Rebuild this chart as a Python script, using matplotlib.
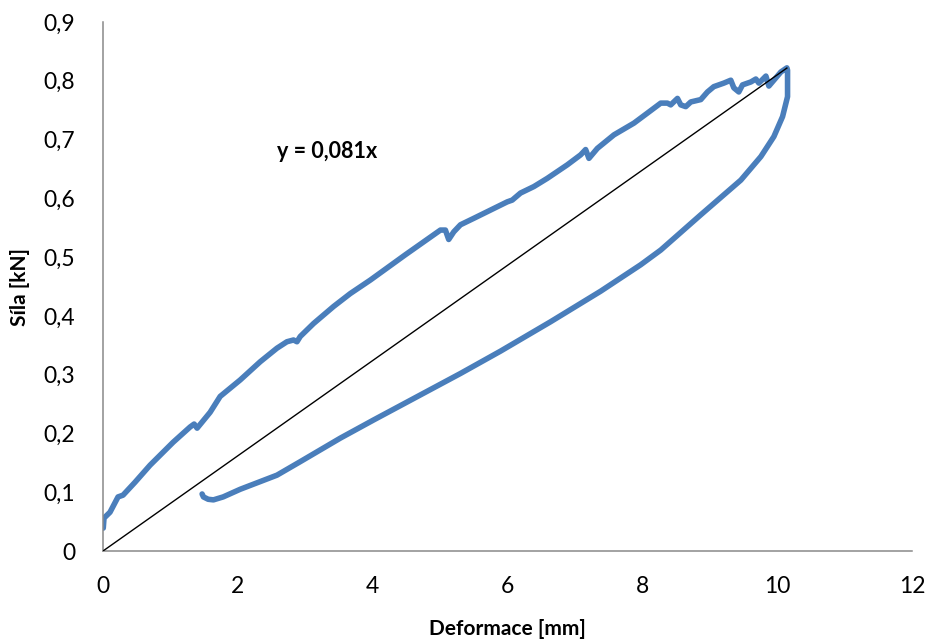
import matplotlib
matplotlib.use("Agg")
import matplotlib.pyplot as plt
from matplotlib.ticker import FuncFormatter

# Loading branch (deformation in mm, force in kN)
loading_x = [0.004, 0.015, 0.104, 0.223, 0.297, 0.475, 0.698, 1.040, 1.292, 1.352,
             1.396, 1.589, 1.738, 2.035, 2.332, 2.580, 2.728, 2.826, 2.877, 2.926,
             3.123, 3.420, 3.668, 3.966, 4.485, 5.005, 5.079, 5.128, 5.203, 5.302,
             5.500, 5.748, 5.996, 6.070, 6.193, 6.391, 6.590, 6.887, 7.085, 7.159,
             7.208, 7.333, 7.579, 7.876, 8.075, 8.273, 8.372, 8.421, 8.521, 8.570,
             8.644, 8.719, 8.867, 8.966, 9.060, 9.208, 9.312, 9.357, 9.431, 9.486,
             9.610, 9.684, 9.729, 9.833, 9.877, 9.981, 10.055, 10.144]
loading_y = [0.039, 0.056, 0.066, 0.092, 0.095, 0.117, 0.146, 0.185, 0.211, 0.216,
             0.209, 0.236, 0.263, 0.291, 0.322, 0.345, 0.356, 0.359, 0.356, 0.365,
             0.387, 0.416, 0.438, 0.461, 0.504, 0.546, 0.546, 0.530, 0.543, 0.555,
             0.566, 0.580, 0.594, 0.597, 0.609, 0.620, 0.634, 0.657, 0.674, 0.683,
             0.668, 0.685, 0.708, 0.728, 0.745, 0.762, 0.762, 0.759, 0.770, 0.759,
             0.756, 0.764, 0.768, 0.781, 0.790, 0.796, 0.801, 0.788, 0.781, 0.793,
             0.798, 0.803, 0.796, 0.808, 0.791, 0.805, 0.815, 0.822]

# Unloading branch
unloading_x = [10.144, 10.154, 10.154, 10.154, 10.080, 9.951, 9.758, 9.461, 8.867,
               8.273, 7.976, 7.382, 6.639, 5.896, 5.302, 4.015, 3.520, 2.926, 2.580,
               2.035, 1.782, 1.638, 1.560, 1.490, 1.470]
unloading_y = [0.822, 0.818, 0.796, 0.773, 0.739, 0.705, 0.671, 0.631, 0.572,
               0.512, 0.487, 0.442, 0.390, 0.340, 0.302, 0.223, 0.192, 0.152, 0.129,
               0.105, 0.092, 0.087, 0.088, 0.092, 0.097]

# Linear trend through the origin
slope = 0.081
trend_x = [0.0, 10.144]

x_ticks = [0, 2, 4, 6, 8, 10, 12]
y_ticks = [0.0, 0.1, 0.2, 0.3, 0.4, 0.5, 0.6, 0.7, 0.8, 0.9]
equation_label = "y = 0,081x"

plt.rcParams["font.family"] = ["Lato", "DejaVu Sans"]

fig = plt.figure(figsize=(9.3, 6.4), dpi=100)
ax = fig.add_axes([103 / 930, 1 - 551 / 640, (912 - 103) / 930, (551 - 22) / 640])

curve_x = loading_x + unloading_x
curve_y = loading_y + unloading_y
ax.plot(curve_x, curve_y, color="#4A7EBB", lw=4.0, solid_joinstyle="round",
        solid_capstyle="round", zorder=2)
ax.plot(trend_x, [slope * v for v in trend_x], color="black", lw=1.0, zorder=3)

ax.text(3.33, 0.679, equation_label, fontsize=15.5, fontweight="bold",
        ha="center", va="center")

ax.set_xlim(x_ticks[0], x_ticks[-1])
ax.set_ylim(y_ticks[0], y_ticks[-1])
ax.set_xticks(x_ticks)
ax.set_yticks(y_ticks)

comma = FuncFormatter(lambda v, p: ("%g" % round(v, 2)).replace(".", ","))
ax.xaxis.set_major_formatter(comma)
ax.yaxis.set_major_formatter(comma)
ax.tick_params(axis="both", length=0, labelsize=16.5, colors="black")
ax.tick_params(axis="y", pad=20)
ax.tick_params(axis="x", pad=18)

for side in ("top", "right"):
    ax.spines[side].set_visible(False)
for side in ("left", "bottom"):
    ax.spines[side].set_color("#898989")
    ax.spines[side].set_linewidth(1.1)

ax.set_xlabel("Deformace [mm]", fontsize=15, fontweight="bold", labelpad=16)
ax.set_ylabel("Síla [kN]", fontsize=15, fontweight="bold", labelpad=10)

fig.savefig("out.png", dpi=100, facecolor="white")
